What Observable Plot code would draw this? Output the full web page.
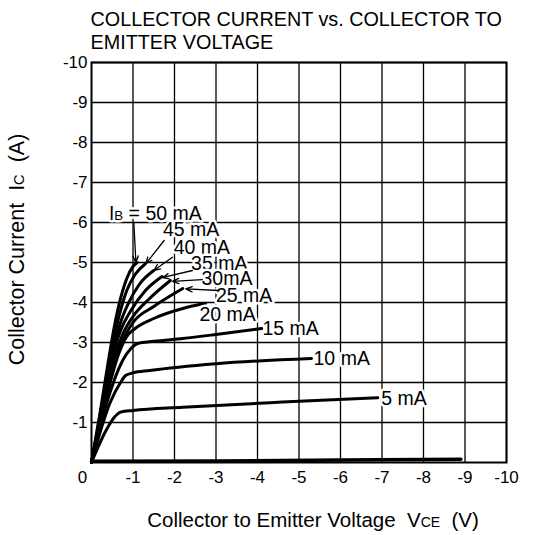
<!DOCTYPE html>
<html><head><meta charset="utf-8">
<script src="https://cdn.jsdelivr.net/npm/d3@7"></script>
<script src="https://cdn.jsdelivr.net/npm/@observablehq/plot@0.6"></script>
<style>body{margin:0;background:#fff} svg{display:block}</style>
</head><body><div id="chart"></div>
<script>
// tick values
const xTicks = [-1,-2,-3,-4,-5,-6,-7,-8,-9,-10];
const yTicks = [-1,-2,-3,-4,-5,-6,-7,-8,-9,-10];

// curves: [|VCE| (V), |IC| (A)]
const ib0  = [[0,0.03],[3,0.04],[6,0.06],[8.9,0.08]];
const ib5  = [[0,0],[0.35,0.8],[0.55,1.13],[0.7,1.26],[1.0,1.3],[2.2,1.38],[4.6,1.51],[6.9,1.62]];
const ib10 = [[0,0],[0.45,1.5],[0.7,2.0],[0.83,2.18],[1.0,2.24],[1.4,2.3],[3.0,2.47],[5.3,2.6]];
const ib15 = [[0,0],[0.4,1.6],[0.75,2.55],[0.95,2.85],[1.1,2.97],[1.5,3.03],[2.2,3.1],[3.0,3.2],[4.1,3.35]];
const ib20 = [[0,0],[0.35,1.6],[0.65,2.7],[0.85,3.15],[1.05,3.35],[1.5,3.6],[2.2,3.85],[2.75,3.98]];
const ib25 = [[0,0],[0.3,1.45],[0.6,2.6],[0.8,3.15],[1.0,3.5],[1.5,3.9],[2.2,4.35]];
const ib30 = [[0,0],[0.3,1.5],[0.55,2.6],[0.75,3.2],[1.0,3.65],[1.4,4.1],[1.9,4.55]];
const ib35 = [[0,0],[0.25,1.3],[0.5,2.6],[0.7,3.3],[0.95,3.8],[1.3,4.3],[1.7,4.65]];
const ib40 = [[0,0],[0.25,1.3],[0.5,2.7],[0.7,3.5],[0.9,4.0],[1.15,4.45],[1.5,4.8]];
const ib45 = [[0,0],[0.2,1.15],[0.45,2.6],[0.65,3.6],[0.85,4.3],[1.05,4.7],[1.3,4.97]];
const ib50 = [[0,0],[0.2,1.2],[0.4,2.5],[0.55,3.4],[0.7,4.1],[0.85,4.6],[1.0,4.9],[1.1,5.0]];

// curve labels
const labelText = ["IB = 50 mA","45 mA","40 mA","35 mA","30mA","25 mA","20 mA","15 mA","10 mA","5 mA"];
const labelV = [0.42,1.72,1.98,2.4,2.65,3.0,2.6,4.12,5.35,6.98];
const labelI = [6.22,5.82,5.38,4.97,4.59,4.17,3.7,3.35,2.6,1.6];

// pointer arrows
const arrowFromV = [1.02,1.75,1.95,2.43,2.67,3.07];
const arrowFromI = [6.0,5.55,5.13,4.8,4.57,4.3];
const arrowToV = [1.07,1.31,1.5,1.71,1.95,2.27];
const arrowToI = [5.0,4.97,4.8,4.62,4.53,4.34];

const curves = {ib0, ib5, ib10, ib15, ib20, ib25, ib30, ib35, ib40, ib45, ib50};
const rows = Object.entries(curves).flatMap(([k, pts]) => pts.map(([v, i]) => ({curve: k, v: -v, i: -i})));
const labels = labelText.map((t, j) => ({t, v: -labelV[j], i: -labelI[j]}));
const arrows = arrowFromV.map((_, j) => ({x1: -arrowFromV[j], y1: -arrowFromI[j], x2: -arrowToV[j], y2: -arrowToI[j]}));

const NB = "\u00a0";
const font = "'Liberation Sans', Arial, Helvetica, sans-serif";

const chart = Plot.plot({
  width: 545, height: 535,
  marginLeft: 91, marginRight: 39, marginTop: 62, marginBottom: 73,
  style: {fontFamily: font, background: "white", color: "black"},
  x: {domain: [0, -10], label: null},
  y: {domain: [0, -10], label: null},
  marks: [
    Plot.gridX(xTicks, {stroke: "black", strokeOpacity: 1, strokeWidth: 1.3}),
    Plot.gridY(yTicks, {stroke: "black", strokeOpacity: 1, strokeWidth: 1.3}),
    Plot.frame({stroke: "black", strokeWidth: 2}),
    Plot.axisX(xTicks, {tickSize: 0, tickPadding: 8, fontSize: 17, tickFormat: d => String(d), label: null}),
    Plot.axisX([0], {tickSize: 0, tickPadding: 8, fontSize: 17, dx: -9, tickFormat: d => String(d), label: null}),
    Plot.axisY(yTicks, {tickSize: 0, tickPadding: 4, fontSize: 17, tickFormat: d => String(d), label: null}),
    Plot.line(rows.filter(d => d.curve === "ib0"), {x: "v", y: "i", stroke: "black", strokeWidth: 3.5}),
    Plot.line(rows.filter(d => d.curve !== "ib0"), {x: "v", y: "i", z: "curve", stroke: "black", strokeWidth: 3, curve: "monotone-x"}),
    Plot.text(labels, {x: "v", y: "i", text: "t", textAnchor: "start", lineAnchor: "middle", fontSize: 19.5, fill: "black", stroke: "white", strokeWidth: 5}),
    Plot.arrow(arrows, {x1: "x1", y1: "y1", x2: "x2", y2: "y2", stroke: "black", strokeWidth: 1.3, headLength: 8, headAngle: 45}),
    Plot.text(["COLLECTOR CURRENT vs. COLLECTOR TO"], {frameAnchor: "top-left", textAnchor: "start", lineAnchor: "middle", dx: -1, dy: -43, fontSize: 19.8}),
    Plot.text(["EMITTER VOLTAGE"], {frameAnchor: "top-left", textAnchor: "start", lineAnchor: "middle", dx: -1, dy: -19.5, fontSize: 19.8}),
    Plot.text(["Collector to Emitter Voltage" + NB + NB + "VCE" + NB + NB + "(V)"], {frameAnchor: "bottom", textAnchor: "middle", lineAnchor: "middle", dx: 14, dy: 58, fontSize: 20.5}),
    Plot.text(["Collector Current" + NB + NB + "IC" + NB + NB + "(A)"], {frameAnchor: "left", textAnchor: "middle", lineAnchor: "middle", rotate: -90, dx: -74, dy: -13, fontSize: 21.5})
  ]
});

// small-capital subscripts
const subs = [
  ["IB = 50 mA", "I", "B", " = 50 mA"],
  ["Collector to Emitter Voltage" + NB + NB + "VCE" + NB + NB + "(V)", "Collector to Emitter Voltage" + NB + NB + "V", "CE", NB + NB + "(V)"],
  ["Collector Current" + NB + NB + "IC" + NB + NB + "(A)", "Collector Current" + NB + NB + "I", "C", NB + NB + "(A)"]
];
d3.select(chart).selectAll("text").each(function() {
  const t = this.textContent;
  const s = subs.find(e => e[0] === t);
  if (!s) return;
  const el = d3.select(this);
  el.text(null);
  el.append("tspan").text(s[1]);
  el.append("tspan").attr("font-size", "0.68em").text(s[2]);
  el.append("tspan").text(s[3]);
});
document.getElementById("chart").appendChild(chart);
</script>
</body></html>
